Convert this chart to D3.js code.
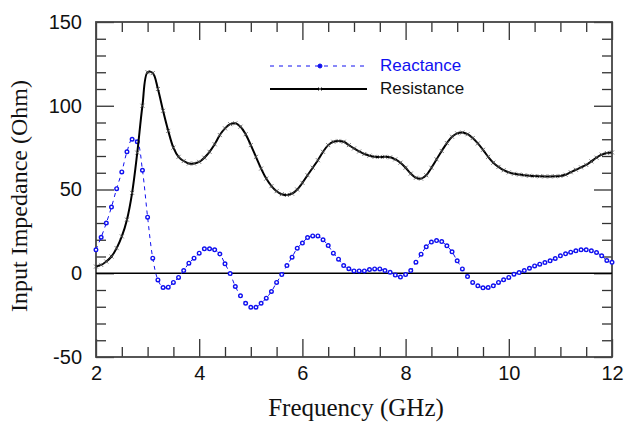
<!DOCTYPE html>
<html>
<head>
<meta charset="utf-8">
<script src="https://cdn.jsdelivr.net/npm/d3@7"></script>
<style>
  body { margin: 0; background: #fff; }
  .tick text { font-family: "Liberation Sans", Arial, sans-serif; }
</style>
</head>
<body>
<svg width="626" height="428"></svg>
<script>
// frequency grid, GHz
var freq = d3.range(0, 101).map(function(i){ return +(2 + i*0.1).toFixed(1); });

// reactance, Ohm (one value per 0.1 GHz from 2.0 to 12.0)
var reactance = [
  14, 21.5, 30, 39.5, 50.5, 60.5, 72.5, 80, 78.5, 61.5,
  33.5, 9, -4, -8.5, -8.3, -5.5, -2.5, 1.6, 6, 9,
  12, 14.6, 14.6, 14, 11.5, 5.6, -0.2, -7.9, -13.5, -17.9,
  -20.3, -20.3, -17.9, -14.9, -10.9, -5.5, -0.8, 4.6, 9.6, 15,
  18, 21.3, 22.3, 22.3, 20, 16.5, 12, 8.4, 4.6, 2.7,
  1.4, 1.4, 1.4, 2.2, 2.6, 2.6, 1.6, 0.6, -1.1, -2.3,
  -0.8, 1.6, 6.6, 11.4, 15.8, 18.6, 19.5, 18.9, 16.4, 12.8,
  7.4, 2.6, -2, -5.5, -7.5, -8.7, -8.5, -7.5, -5.5, -3.9,
  -2.5, -0.6, 0.4, 1.6, 3, 4.4, 5.4, 6.4, 7.4, 8.8,
  10.4, 11.6, 12.6, 13.4, 14, 14, 13.4, 12.4, 10.4, 7.6,
  6.5
];

// resistance, Ohm
var resistance = [
  4, 5, 7, 10, 15, 22, 32, 48, 72, 100,
  120, 119.5, 110, 97, 85, 75, 69.5, 67, 65.5, 65.5,
  66.5, 69, 72.5, 77, 82.5, 86.5, 89, 89.5, 87.5, 83,
  76.5, 69.5, 62.5, 56.5, 52, 49, 47.2, 46.7, 47.5, 50,
  54, 58.5, 63, 67.5, 72.5, 76.5, 78.5, 79, 78.5, 76.5,
  74.5, 72.7, 71.2, 70.2, 69.5, 69.4, 69.5, 69.2, 68, 66,
  63, 59.5, 57, 56.5, 58.5, 63, 68, 73, 77.7, 81.5,
  83.5, 84, 83, 80.7, 77.5, 73.7, 69.5, 66, 63.5, 61.5,
  60.2, 59.4, 58.9, 58.5, 58.2, 58, 57.9, 57.8, 57.8, 57.9,
  58.1, 58.8, 60.3, 61.8, 63.2, 64.7, 66.8, 69, 70.8, 71.8,
  72.1
];

var xMajor = [2, 4, 6, 8, 10, 12];
var yMajor = [-50, 0, 50, 100, 150];

var svg = d3.select("svg");
var m = {left: 96, right: 612, top: 22, bottom: 357};

var x = d3.scaleLinear().domain([2, 12]).range([m.left, m.right]);
var y = d3.scaleLinear().domain([-50, 150]).range([m.bottom, m.top]);

var xMinor = d3.range(2, 12.01, 0.5).filter(function(v){ return xMajor.indexOf(v) < 0; });
var yMinor = d3.range(-50, 150.01, 10).filter(function(v){ return yMajor.indexOf(v) < 0; });

// plain hyphen for negatives, like the original
var plain = function(d){ return String(d); };

function tickStyle(g) {
  g.select(".domain").remove();
  g.selectAll(".tick line").attr("stroke", "#333").attr("stroke-width", 1.3);
}

// ticks pointing inwards, on all four sides
svg.append("g").attr("transform", "translate(0," + m.bottom + ")")
  .call(d3.axisBottom(x).tickValues(xMinor).tickSize(-10).tickFormat("")).call(tickStyle);
svg.append("g").attr("transform", "translate(0," + m.top + ")")
  .call(d3.axisTop(x).tickValues(xMinor).tickSize(-10).tickFormat("")).call(tickStyle);
svg.append("g").attr("transform", "translate(0," + m.top + ")")
  .call(d3.axisTop(x).tickValues(xMajor).tickSize(-18).tickFormat("")).call(tickStyle);
var xAx = svg.append("g").attr("transform", "translate(0," + m.bottom + ")")
  .call(d3.axisBottom(x).tickValues(xMajor).tickSize(-18).tickPadding(9).tickFormat(plain))
  .call(tickStyle);
xAx.selectAll(".tick text").attr("font-size", 20).attr("fill", "#111");

svg.append("g").attr("transform", "translate(" + m.left + ",0)")
  .call(d3.axisLeft(y).tickValues(yMinor).tickSize(-10).tickFormat("")).call(tickStyle);
svg.append("g").attr("transform", "translate(" + m.right + ",0)")
  .call(d3.axisRight(y).tickValues(yMinor).tickSize(-10).tickFormat("")).call(tickStyle);
svg.append("g").attr("transform", "translate(" + m.right + ",0)")
  .call(d3.axisRight(y).tickValues(yMajor).tickSize(-18).tickFormat("")).call(tickStyle);
var yAx = svg.append("g").attr("transform", "translate(" + m.left + ",0)")
  .call(d3.axisLeft(y).tickValues(yMajor).tickSize(-18).tickPadding(14).tickFormat(plain))
  .call(tickStyle);
yAx.selectAll(".tick text").attr("font-size", 20).attr("fill", "#111");

// frame
svg.append("rect")
  .attr("x", m.left).attr("y", m.top)
  .attr("width", m.right - m.left).attr("height", m.bottom - m.top)
  .attr("fill", "none").attr("stroke", "#444").attr("stroke-width", 1.8);

// zero line
svg.append("line")
  .attr("x1", x(2)).attr("x2", x(12)).attr("y1", y(0)).attr("y2", y(0))
  .attr("stroke", "#000").attr("stroke-width", 1.3);

var blue = "#1010f0";

var lineR = d3.line()
  .x(function(d, i){ return x(freq[i]); })
  .y(function(d){ return y(d); })
  .curve(d3.curveCatmullRom);

// reactance
svg.append("path").datum(reactance)
  .attr("d", lineR)
  .attr("fill", "none").attr("stroke", blue).attr("stroke-width", 1)
  .attr("stroke-dasharray", "4,4");
svg.append("g").selectAll("circle").data(reactance).enter().append("circle")
  .attr("cx", function(d, i){ return x(freq[i]); })
  .attr("cy", function(d){ return y(d); })
  .attr("r", 1.8)
  .attr("fill", "#fff").attr("stroke", blue).attr("stroke-width", 1.4);

// resistance
svg.append("path").datum(resistance)
  .attr("d", lineR)
  .attr("fill", "none").attr("stroke", "#000").attr("stroke-width", 2);
svg.append("g").selectAll("path").data(resistance).enter().append("path")
  .attr("d", function(d, i){
    var cx = x(freq[i]), cy = y(d), s = 2;
    return "M" + (cx-s) + "," + (cy-s) + "L" + (cx+s) + "," + (cy+s) +
      "M" + (cx-s) + "," + (cy+s) + "L" + (cx+s) + "," + (cy-s);
  })
  .attr("stroke", "#555").attr("stroke-width", 0.8);

// legend
var leg = svg.append("g");
leg.append("line").attr("x1", 270).attr("x2", 367).attr("y1", 66).attr("y2", 66)
  .attr("stroke", blue).attr("stroke-width", 1).attr("stroke-dasharray", "4,5");
leg.append("circle").attr("cx", 320).attr("cy", 66).attr("r", 2)
  .attr("fill", blue).attr("stroke", blue);
leg.append("text").attr("x", 380).attr("y", 71).text("Reactance")
  .attr("font-family", "Liberation Sans, Arial, sans-serif").attr("font-size", 17).attr("fill", blue);
leg.append("line").attr("x1", 270).attr("x2", 367).attr("y1", 89).attr("y2", 89)
  .attr("stroke", "#000").attr("stroke-width", 2);
leg.append("path").attr("d", "M318,87L322,91M318,91L322,87").attr("stroke", "#666").attr("stroke-width", 0.8);
leg.append("text").attr("x", 380).attr("y", 94).text("Resistance")
  .attr("font-family", "Liberation Sans, Arial, sans-serif").attr("font-size", 17).attr("fill", "#111");

// axis titles
svg.append("text")
  .attr("x", 356).attr("y", 416)
  .attr("text-anchor", "middle")
  .attr("font-family", "Liberation Serif, Times New Roman, serif").attr("font-size", 25)
  .attr("fill", "#111")
  .text("Frequency (GHz)");
svg.append("text")
  .attr("transform", "translate(27,196) rotate(-90)")
  .attr("text-anchor", "middle")
  .attr("font-family", "Liberation Serif, Times New Roman, serif").attr("font-size", 24)
  .attr("fill", "#111")
  .text("Input Impedance (Ohm)");
</script>
</body>
</html>
